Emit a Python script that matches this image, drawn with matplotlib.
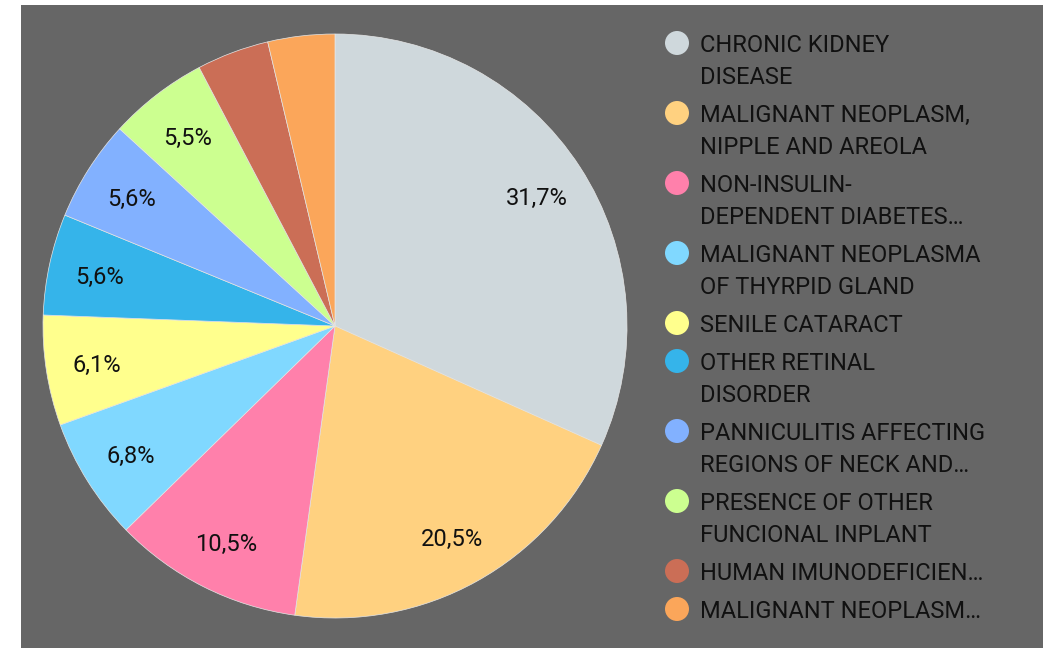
import matplotlib
matplotlib.use("Agg")
import matplotlib.pyplot as plt
from matplotlib.patches import Rectangle, Ellipse
from matplotlib.transforms import offset_copy

categories = [
    "CHRONIC KIDNEY\nDISEASE",
    "MALIGNANT NEOPLASM,\nNIPPLE AND AREOLA",
    "NON-INSULIN-\nDEPENDENT DIABETES…",
    "MALIGNANT NEOPLASMA\nOF THYRPID GLAND",
    "SENILE CATARACT",
    "OTHER RETINAL\nDISORDER",
    "PANNICULITIS AFFECTING\nREGIONS OF NECK AND…",
    "PRESENCE OF OTHER\nFUNCIONAL INPLANT",
    "HUMAN IMUNODEFICIEN…",
    "MALIGNANT NEOPLASM…",
]
values = [31.7, 20.5, 10.5, 6.8, 6.1, 5.6, 5.6, 5.5, 4.0, 3.7]
colors = ["#CFD8DC", "#FFD180", "#FF80AB", "#80D8FF", "#FFFF8D",
          "#35B4EA", "#82B1FF", "#CCFF90", "#CB6E56", "#FBA65A"]

W, H = 1043, 648
fig = plt.figure(figsize=(W / 100, H / 100), dpi=100, facecolor="white")
fig.patches.append(Rectangle((21 / W, 0), 1 - 21 / W, (H - 5) / H,
                             transform=fig.transFigure, facecolor="#666666",
                             edgecolor="none", zorder=-5))

plt.rcParams["font.family"] = ["Roboto", "DejaVu Sans"]

cx, cy, r = 335, 326, 292
ax = fig.add_axes([(cx - r) / W, (H - cy - r) / H, 2 * r / W, 2 * r / H])
ax.set_zorder(2)
ax.set_facecolor("none")


def fmt(p):
    return (f"{p:.1f}".replace(".", ",") + "%") if p >= 5 else ""


wedges, texts, autotexts = ax.pie(
    values, colors=colors, startangle=90, counterclock=False,
    autopct=fmt, pctdistance=0.825, radius=1,
    wedgeprops=dict(edgecolor="#e6e6e6", linewidth=0.5),
    textprops=dict(fontsize=17, color="#111111"))
for t in autotexts:
    t.set_transform(offset_copy(t.get_transform(), fig=fig, x=0, y=-3, units="dots"))
ax.set_xlim(-1, 1)
ax.set_ylim(-1, 1)
ax.set_aspect("equal")
ax.axis("off")

# legend
y = 43
line_h = 32
gap = 6
for lab, col in zip(categories, colors):
    n = lab.count("\n") + 1
    fig.patches.append(Ellipse(
        (677 / W, 1 - y / H), 24 / W, 24 / H, transform=fig.transFigure,
        facecolor=col, edgecolor="none", zorder=3))
    for i, line in enumerate(lab.split("\n")):
        fig.text(700 / W, 1 - (y + 2 + i * line_h) / H, line, ha="left",
                 va="center", fontsize=17, color="#111111")
    y += n * line_h + gap

fig.savefig("out.png", dpi=100, facecolor="white")
